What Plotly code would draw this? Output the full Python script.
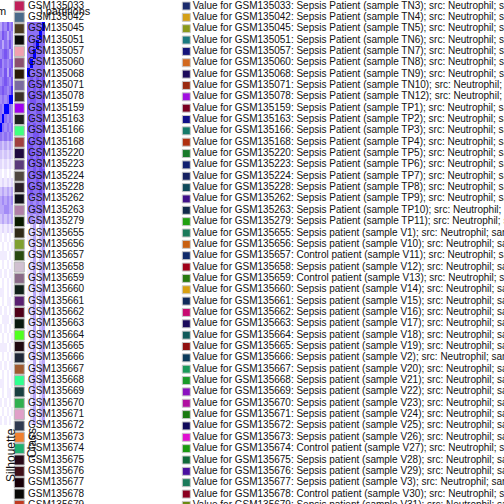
import plotly.graph_objects as go

# ---------------- data ----------------
gsm_ids = ["GSM135033", "GSM135042", "GSM135045", "GSM135051", "GSM135057", "GSM135060",
           "GSM135068", "GSM135071", "GSM135078", "GSM135159", "GSM135163", "GSM135166",
           "GSM135168", "GSM135220", "GSM135223", "GSM135224", "GSM135228", "GSM135262",
           "GSM135263", "GSM135279", "GSM135655", "GSM135656", "GSM135657", "GSM135658",
           "GSM135659", "GSM135660", "GSM135661", "GSM135662", "GSM135663", "GSM135664",
           "GSM135665", "GSM135666", "GSM135667", "GSM135668", "GSM135669", "GSM135670",
           "GSM135671", "GSM135672", "GSM135673", "GSM135674", "GSM135675", "GSM135676",
           "GSM135677", "GSM135678", "GSM135679"]

groups = (["Sepsis Patient"] * 20 +
          ["Sepsis patient", "Sepsis patient", "Control patient", "Sepsis patient",
           "Control patient", "Sepsis patient", "Sepsis patient", "Sepsis patient",
           "Sepsis patient", "Sepsis patient", "Sepsis patient", "Sepsis patient",
           "Sepsis patient", "Sepsis patient", "Sepsis patient", "Sepsis patient",
           "Sepsis patient", "Sepsis patient", "Sepsis patient", "Control patient",
           "Sepsis patient", "Sepsis patient", "Sepsis patient", "Control patient",
           "Sepsis patient"])

samples = ["TN3", "TN4", "TN5", "TN6", "TN7", "TN8", "TN9", "TN10", "TN12",
           "TP1", "TP2", "TP3", "TP4", "TP5", "TP6", "TP7", "TP8", "TP9", "TP10", "TP11",
           "V1", "V10", "V11", "V12", "V13", "V14", "V15", "V16", "V17", "V18", "V19",
           "V2", "V20", "V21", "V22", "V23", "V24", "V25", "V26", "V27", "V28", "V29",
           "V3", "V30", "V31"]

class_colors = ["#c0205a", "#4a6a8a", "#4a3a20", "#0a0a0a", "#f0a0b0", "#8a5070", "#2a1a08",
                "#7a6aa0", "#3a3028", "#a000f0", "#202020", "#40ff80", "#a04040", "#200a40",
                "#5a3a7a", "#504840", "#2a2028", "#10101a", "#b080a8", "#0a1a00", "#302a18",
                "#80a030", "#2a4a10", "#d0c0d0", "#8a6a88", "#102018", "#5a2070", "#500018",
                "#0a1a10", "#50ff20", "#200a10", "#202838", "#a05a30", "#30ff90", "#1a4040",
                "#30b050", "#e0a0c8", "#303a50", "#f08030", "#20b070", "#280a18", "#401018",
                "#180008", "#0a0a08", "#c03a20"]

value_colors = ["#1a2a6c", "#d4a017", "#8a9a1a", "#1a7a80", "#14147a", "#d2691e", "#1c0a5a",
                "#9a2a10", "#a010e0", "#7a0020", "#10108a", "#147a6a", "#b03010", "#187a2a",
                "#102070", "#142060", "#104a5a", "#40108a", "#102a4a", "#20a010", "#1a7a5a",
                "#c86010", "#102a6a", "#a00018", "#287a10", "#d8a010", "#102a5a", "#c80a70",
                "#1a0a5a", "#105a5a", "#901010", "#0a3a5a", "#1a9a5a", "#1a9a2a", "#8a10c0",
                "#b010a0", "#1a7a10", "#100a5a", "#e010d0", "#1a9a10", "#106a3a", "#4a10a0",
                "#1a7a5a", "#8a0020", "#6a8a10"]

# consensus heatmap (visible right-most columns), values 0..9
consensus_rows = ["465756", "576465", "646575", "567646", "756567", "657476", "567657",
                  "676568", "565699", "659965", "696565", "965656", "656565", "434343",
                  "323232", "212121", "101010", "121212", "343434", "454545", "445544",
                  "343434", "121212", "101010", "010101", "111010", "010101", "101011",
                  "010101", "110101", "010110", "101010", "011101", "101010", "010101",
                  "111010", "010101", "101011", "010101", "110101", "010110", "101010",
                  "010101", "101010"]

# membership strip, values 0..9
strip_rows = ["666669", "666696", "667966", "679666", "696666", "966666",
              "676767", "767676", "677667", "766776", "676676", "767667", "667766",
              "776677", "676767", "767676", "667677", "766766", "676676",
              "565656", "556565", "454545",
              "024034", "124134", "024024", "114034", "024134", "124034", "024024",
              "114134", "024034", "124024", "024034", "114034", "024134", "124034",
              "024024", "114034", "024034", "124134", "024024", "114034", "024034",
              "024024"]

# ---------------- figure ----------------
W = H = 504
scale = [[0.0, "#ffffff"], [0.3, "#d8ccfb"], [0.6, "#9a80f5"], [0.85, "#6a44f0"], [1.0, "#0000ff"]]
left_z = [[int(c) / 9 for c in r] for r in consensus_rows]
mid_z = [[int(c) / 9 for c in r] for r in strip_rows]

n = len(gsm_ids)
rows = list(range(n))
row0_px, row_step = 6.0, 11.35          # label rows: first centre and spacing (px)
hm_top, hm_bot = 22.0, 425.0            # heat panels: top and bottom edge (px)
hm_step = (hm_bot - hm_top) / len(strip_rows)
font = "Liberation Sans, Arial, sans-serif"

# heat panels in label-row units of the shared y axis
hm_y0 = (hm_top + hm_step / 2 - row0_px) / row_step
hm_dy = hm_step / row_step

fig = go.Figure()
fig.add_trace(go.Heatmap(z=left_z, x0=1.05, dx=2.1, y0=hm_y0, dy=hm_dy,
                         colorscale=scale, zmin=0, zmax=1, showscale=False, hoverinfo="skip"))
fig.add_trace(go.Heatmap(z=mid_z, x0=28.5, dx=3.0, y0=hm_y0, dy=hm_dy,
                         colorscale=scale, zmin=0, zmax=1, showscale=False, hoverinfo="skip"))

fig.add_trace(go.Scatter(x=[19.3] * n, y=rows, mode="markers",
                         marker=dict(symbol="square", size=10, color=class_colors,
                                     line=dict(color="#b8b8b8", width=1)),
                         hoverinfo="skip"))
fig.add_trace(go.Scatter(x=[28] * n, y=rows, mode="text",
                         text=gsm_ids, textposition="middle right",
                         textfont=dict(family=font, size=10, color="#111111"),
                         hoverinfo="skip"))
fig.add_trace(go.Scatter(x=[186.3] * n, y=rows, mode="markers",
                         marker=dict(symbol="square", size=8, color=value_colors,
                                     line=dict(color="#c8c8c8", width=1)),
                         hoverinfo="skip"))
value_text = ["Value for %s: %s (sample %s); src: Neutrophil; sample type: blood" % (g, grp, s)
              for g, grp, s in zip(gsm_ids, groups, samples)]
fig.add_trace(go.Scatter(x=[192.7] * n, y=rows, mode="text",
                         text=value_text, textposition="middle right",
                         textfont=dict(family=font, size=10, color="#111111"),
                         hoverinfo="skip"))

ax_off = dict(visible=False, showgrid=False, zeroline=False, fixedrange=True)
fig.update_layout(
    width=W, height=H, margin=dict(l=0, r=0, t=0, b=0),
    paper_bgcolor="white", plot_bgcolor="white", showlegend=False,
    xaxis=dict(range=[0, W], **ax_off),
    yaxis=dict(range=[(H - row0_px) / row_step, -row0_px / row_step], **ax_off),
    annotations=[
        dict(text="m", x=8 / W, y=1 - 10.5 / H, xref="paper", yref="paper",
             xanchor="right", yanchor="middle", showarrow=False,
             font=dict(family=font, size=11, color="#111111")),
        dict(text=") partitions", x=37 / W, y=1 - 10.5 / H, xref="paper", yref="paper",
             xanchor="left", yanchor="middle", showarrow=False,
             font=dict(family=font, size=11, color="#111111")),
        dict(text="Silhouette", x=11 / W, y=1 - 455 / H, xref="paper", yref="paper",
             textangle=-90, xanchor="center", yanchor="middle", showarrow=False,
             font=dict(family=font, size=12, color="#111111")),
        dict(text="Class", x=32 / W, y=1 - 443 / H, xref="paper", yref="paper",
             textangle=-90, xanchor="center", yanchor="middle", showarrow=False,
             font=dict(family=font, size=12, color="#111111")),
    ],
)

fig.write_html("out.html")
